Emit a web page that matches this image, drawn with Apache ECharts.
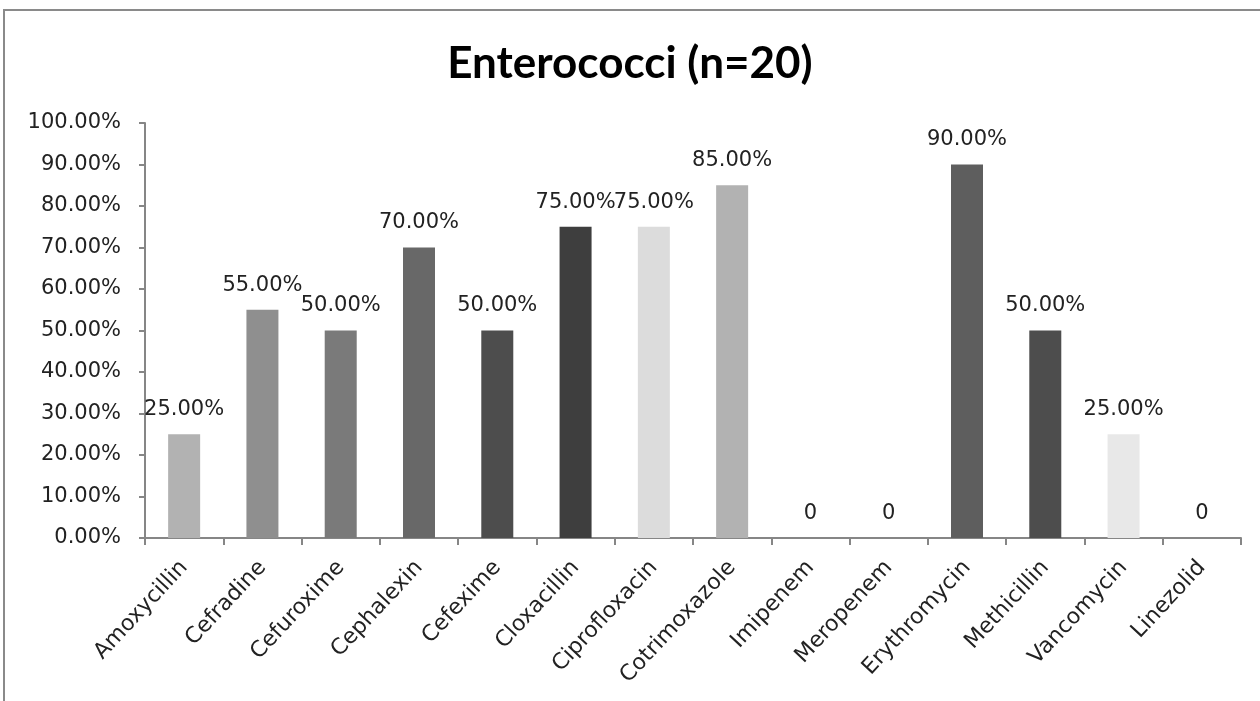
<!DOCTYPE html>
<html>
<head>
<meta charset="utf-8">
<title>Enterococci (n=20)</title>
<script src="https://cdn.jsdelivr.net/npm/echarts@6/dist/echarts.min.js"></script>
<style>
  html, body { margin: 0; padding: 0; background: #fff; }
  #frame {
    position: absolute; left: 3px; top: 9px; width: 1400px; height: 800px;
    border-top: 2px solid #8a8a8a; border-left: 2px solid #8a8a8a;
  }
  #chart { position: absolute; left: 0; top: 0; width: 1260px; height: 701px; }
</style>
</head>
<body>
<div id="frame"></div>
<div id="chart"></div>
<script>
// data
const drugs = ['Amoxycillin', 'Cefradine', 'Cefuroxime', 'Cephalexin', 'Cefexime', 'Cloxacillin',
  'Ciprofloxacin', 'Cotrimoxazole', 'Imipenem', 'Meropenem', 'Erythromycin', 'Methicillin',
  'Vancomycin', 'Linezolid']
const resistance = [25, 55, 50, 70, 50, 75, 75, 85, 0, 0, 90, 50, 25, 0]
const barColors = ['#b2b2b2', '#8f8f8f', '#7a7a7a', '#686868', '#4d4d4d', '#3e3e3e',
  '#dcdcdc', '#b2b2b2', '#a0a0a0', '#a0a0a0', '#5e5e5e', '#4d4d4d', '#e8e8e8', '#a0a0a0']
const yTicks = [0, 10, 20, 30, 40, 50, 60, 70, 80, 90, 100]

const axisGrey = '#868686'
const textFont = 'DejaVu Sans'

const chart = echarts.init(document.getElementById('chart'))
chart.setOption({
  animation: false,
  title: {
    text: 'Enterococci (n=20)',
    left: 'center',
    top: 37,
    textStyle: { fontFamily: 'Lato', fontWeight: 'bold', fontSize: 44, color: '#000' }
  },
  grid: { left: 145, right: 19, top: 123, bottom: 163, containLabel: false },
  xAxis: {
    type: 'category',
    data: drugs,
    axisLine: { lineStyle: { color: axisGrey, width: 2 } },
    axisTick: { show: true, length: 7, lineStyle: { color: axisGrey, width: 2 } },
    axisLabel: {
      interval: 0,
      rotate: 47,
      margin: 26,
      fontFamily: textFont,
      fontSize: 22,
      color: '#222'
    }
  },
  yAxis: {
    type: 'value',
    min: yTicks[0],
    max: yTicks[yTicks.length - 1],
    interval: 10,
    splitLine: { show: false },
    axisLine: { show: true, lineStyle: { color: axisGrey, width: 2 } },
    axisTick: { show: true, length: 6, lineStyle: { color: axisGrey, width: 2 } },
    axisLabel: {
      margin: 24,
      fontFamily: textFont,
      fontSize: 21,
      color: '#222',
      formatter: v => v.toFixed(2) + '%'
    }
  },
  series: [{
    type: 'bar',
    barWidth: 32,
    data: resistance.map((v, i) => ({ value: v, itemStyle: { color: barColors[i] } })),
    label: {
      show: true,
      position: 'top',
      distance: 14,
      fontFamily: textFont,
      fontSize: 21,
      color: '#222',
      formatter: p => (p.value === 0 ? '0' : p.value.toFixed(2) + '%')
    }
  }]
})
</script>
</body>
</html>
